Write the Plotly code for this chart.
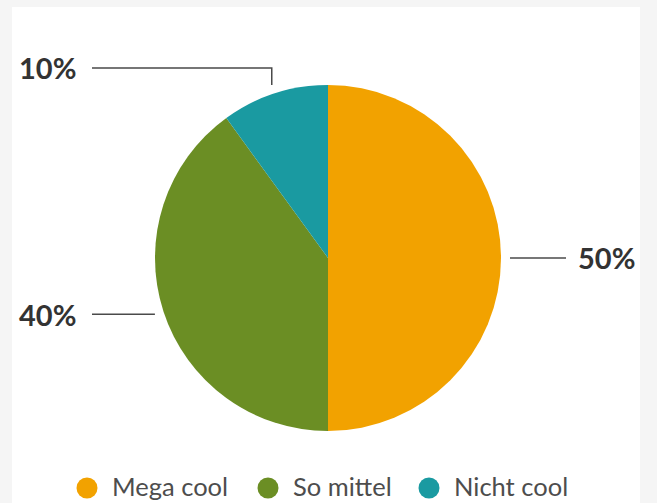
import math
import plotly.graph_objects as go

# Survey answers and their shares
categories = ["Mega cool", "So mittel", "Nicht cool"]
values = [50, 40, 10]
colors = ["#F2A200", "#6B8E24", "#1A9AA1"]

W, H = 657, 503
CX, CY, R = 328, 258, 173          # pie centre and radius in pixels
FONT = "Lato, 'Open Sans', sans-serif"


def px(x):
    return x / W


def py(y):
    return 1 - y / H


fig = go.Figure(
    go.Pie(
        labels=categories,
        values=values,
        marker=dict(colors=colors, line=dict(width=0)),
        sort=False,
        direction="clockwise",
        rotation=0,
        textinfo="none",
        hoverinfo="label+percent",
        showlegend=False,
        domain=dict(x=[px(CX - R), px(CX + R)], y=[py(CY + R), py(CY - R)]),
    )
)

shapes = [
    # white card on the grey page
    dict(type="rect", xref="paper", yref="paper", layer="below",
         x0=px(12), x1=px(640), y0=py(H), y1=py(7),
         fillcolor="white", line=dict(width=0)),
]
annotations = []

# Outside percentage labels with leader lines, placed from each slice's mid angle
total = sum(values)
cum = 0
line_style = dict(color="#4a4a4a", width=1.5)
label_font = dict(family=FONT, size=29, color="#333333")
for v in values:
    mid = (cum + v / 2) / total * 2 * math.pi
    cum += v
    s, c = math.sin(mid), math.cos(mid)
    ax, ay = CX + (R + 9) * s, CY - (R + 9) * c
    text = f"{round(v / total * 100)}%"
    if abs(c) > 0.9:
        # slice near the top/bottom: elbow leader
        ly = ay - 17 if c > 0 else ay + 17
        ex = 92 if s < 0 else W - 92
        shapes.append(dict(type="path", xref="paper", yref="paper",
                           path=f"M {px(ax)} {py(ay)} L {px(ax)} {py(ly)} L {px(ex)} {py(ly)}",
                           line=line_style))
    else:
        ly = ay
        ex = 92 if s < 0 else ax + 56
        shapes.append(dict(type="line", xref="paper", yref="paper",
                           x0=px(ax), y0=py(ay), x1=px(ex), y1=py(ly), line=line_style))
    if s < 0:
        annotations.append(dict(x=px(78), y=py(ly), xref="paper", yref="paper",
                                xanchor="right", yanchor="middle", showarrow=False,
                                text=f"<b>{text}</b>", font=label_font))
    else:
        annotations.append(dict(x=px(ex + 10), y=py(ly - 1), xref="paper", yref="paper",
                                xanchor="left", yanchor="middle", showarrow=False,
                                text=f"<b>{text}</b>", font=label_font))

# Legend with round markers
legend_marker_x = [87, 268, 429]
legend_y = 488
for name, col, lx in zip(categories, colors, legend_marker_x):
    shapes.append(dict(type="circle", xref="paper", yref="paper",
                       x0=px(lx - 10.5), x1=px(lx + 10.5),
                       y0=py(legend_y + 10.5), y1=py(legend_y - 10.5),
                       fillcolor=col, line=dict(width=0)))
    annotations.append(dict(x=px(lx + 23), y=py(legend_y - 2), xref="paper", yref="paper",
                            xanchor="left", yanchor="middle", showarrow=False,
                            text=name,
                            font=dict(family=FONT, size=25.5, color="#4d4d4d")))

fig.update_layout(
    width=W, height=H,
    margin=dict(l=0, r=0, t=0, b=0),
    paper_bgcolor="#F5F5F5",
    plot_bgcolor="#F5F5F5",
    shapes=shapes,
    annotations=annotations,
)

fig.write_html("out.html")
